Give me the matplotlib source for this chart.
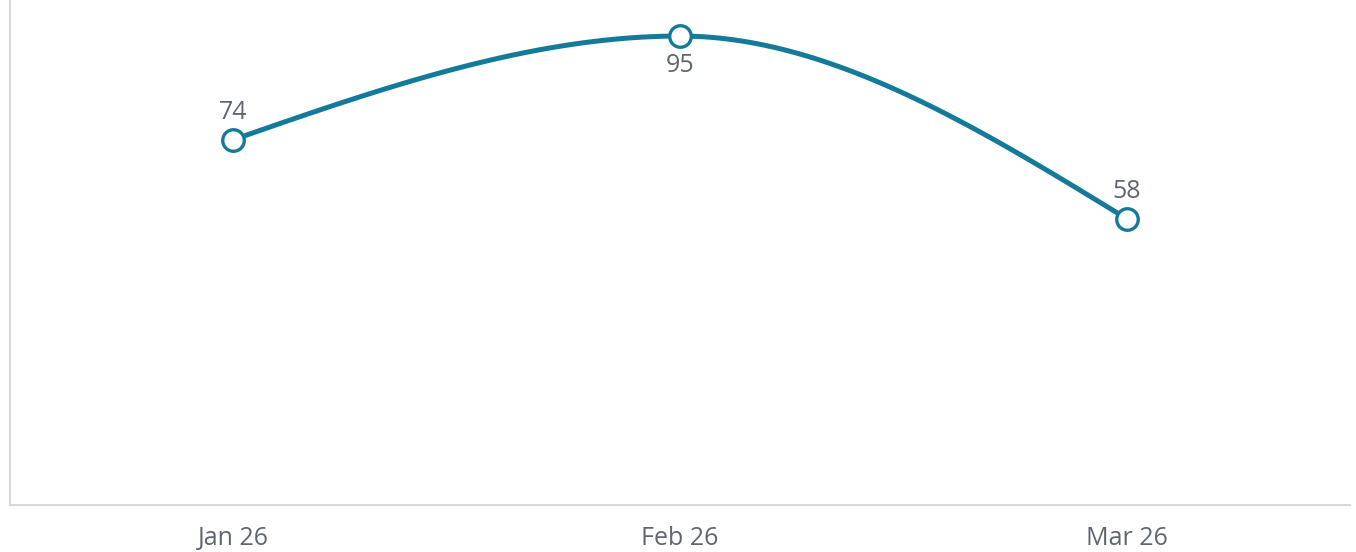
import numpy as np
import matplotlib
matplotlib.use("Agg")
import matplotlib.pyplot as plt

categories = ["Jan 26", "Feb 26", "Mar 26"]
values = [74, 95, 58]

LINE = "#137a9a"
TXT = "#5f6670"

plt.rcParams['font.family'] = ['Open Sans', 'DejaVu Sans']

def monotone_curve(x, y, n=60):
    x = np.asarray(x, float); y = np.asarray(y, float)
    h = np.diff(x); d = np.diff(y) / h
    m = np.zeros_like(y)
    for i in range(1, len(y) - 1):
        if d[i-1] * d[i] <= 0:
            m[i] = 0
        else:
            p = (d[i-1] * h[i] + d[i] * h[i-1]) / (h[i-1] + h[i])
            m[i] = (np.sign(d[i-1]) + np.sign(d[i])) * min(abs(d[i-1]), abs(d[i]), 0.5 * abs(p))
    m[0] = (3 * d[0] - m[1]) / 2 if len(y) > 2 else d[0]
    m[-1] = (3 * d[-1] - m[-2]) / 2 if len(y) > 2 else d[-1]
    xs, ys = [], []
    for i in range(len(x) - 1):
        t = np.linspace(0, 1, n)
        h00 = 2*t**3 - 3*t**2 + 1; h10 = t**3 - 2*t**2 + t
        h01 = -2*t**3 + 3*t**2; h11 = t**3 - t**2
        xs.append(x[i] + t * h[i])
        ys.append(h00*y[i] + h10*h[i]*m[i] + h01*y[i+1] + h11*h[i]*m[i+1])
    return np.concatenate(xs), np.concatenate(ys)

fig = plt.figure(figsize=(13.56, 5.52), dpi=100)
ax = fig.add_axes([10/1356, 47/552, 1340/1356, 505/552])
xpos = np.arange(len(categories))
cx, cy = monotone_curve(xpos, values)
ax.plot(cx, cy, color=LINE, lw=3.6, solid_capstyle='round', zorder=2)
ax.plot(xpos, values, 'o', ms=15.5, mfc='white', mec=LINE, mew=2.4, zorder=3)

FS = 18
for i, v in enumerate(values):
    if v == max(values):
        ax.annotate(str(v), (xpos[i], v), xytext=(0, -12.5), textcoords='offset points',
                    ha='center', va='top', fontsize=FS, color=TXT)
    else:
        ax.annotate(str(v), (xpos[i], v), xytext=(0, 10.5), textcoords='offset points',
                    ha='center', va='bottom', fontsize=FS, color=TXT)

ax.set_xlim(-0.5, len(categories) - 0.5)
ax.set_ylim(0, 102.3)
ax.set_xticks(xpos)
ax.set_xticklabels(categories, fontsize=FS, color=TXT)
ax.tick_params(axis='x', length=0, pad=15)
ax.set_yticks([])
for s in ['top', 'right']:
    ax.spines[s].set_visible(False)
for s in ['left', 'bottom']:
    ax.spines[s].set_color('#d9d9d9')
    ax.spines[s].set_linewidth(1.5)

fig.savefig("out.png", dpi=100)
